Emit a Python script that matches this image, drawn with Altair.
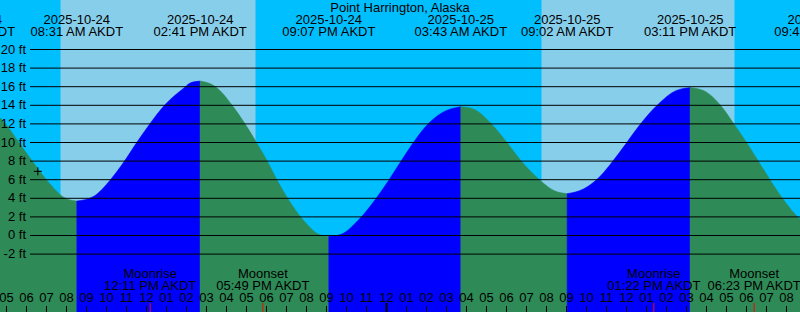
import altair as alt
import pandas as pd

TITLE = "Point Harrington, Alaska"
ZONE = "AKDT"
FONT = "Liberation Sans"

# High / low tides (first and last lie just outside the visible window)
extreme_stamps = ["2025-10-24 03:07", "2025-10-24 08:31", "2025-10-24 14:41", "2025-10-24 21:07",
                  "2025-10-25 03:43", "2025-10-25 09:02", "2025-10-25 15:11", "2025-10-25 21:43"]
extreme_heights = [14.9, 3.7, 16.6, -0.1, 13.85, 4.5, 15.9, 0.6]

# Water level (ft)
reading_stamps = [
    "2025-10-24 04:42", "2025-10-24 04:57", "2025-10-24 05:37", "2025-10-24 06:17", "2025-10-24 07:02", "2025-10-24 07:57",
    "2025-10-24 09:21", "2025-10-24 10:12", "2025-10-24 10:54", "2025-10-24 11:27", "2025-10-24 12:10", "2025-10-24 12:54",
    "2025-10-24 13:57", "2025-10-24 14:11",
    "2025-10-24 15:27", "2025-10-24 16:17", "2025-10-24 16:52", "2025-10-24 17:30", "2025-10-24 18:02", "2025-10-24 18:34",
    "2025-10-24 19:07", "2025-10-24 19:47", "2025-10-24 20:42",
    "2025-10-24 21:42", "2025-10-24 22:42", "2025-10-24 23:27", "2025-10-25 00:06", "2025-10-25 00:42", "2025-10-25 01:17",
    "2025-10-25 01:57", "2025-10-25 02:42",
    "2025-10-25 04:20", "2025-10-25 05:12", "2025-10-25 05:57", "2025-10-25 06:42", "2025-10-25 07:42", "2025-10-25 08:24",
    "2025-10-25 09:51", "2025-10-25 10:42", "2025-10-25 11:17", "2025-10-25 11:57", "2025-10-25 12:40", "2025-10-25 13:32",
    "2025-10-25 14:30",
    "2025-10-25 15:50", "2025-10-25 16:42", "2025-10-25 17:22", "2025-10-25 18:02", "2025-10-25 18:37", "2025-10-25 19:12",
    "2025-10-25 19:52", "2025-10-25 20:42",
]
reading_heights = [
    12.6, 12.0, 10.0, 8.0, 5.9, 4.0,
    4.2, 6.0, 8.0, 9.8, 12.0, 14.0,
    16.0, 16.4,
    16.0, 14.0, 12.2, 10.0, 8.0, 5.8,
    3.8, 1.8, 0.05,
    0.1, 1.9, 3.9, 5.9, 7.9, 9.8,
    11.7, 13.1,
    13.6, 12.1, 10.2, 8.1, 5.9, 4.8,
    5.0, 6.4, 7.9, 9.8, 11.9, 14.0,
    15.6,
    15.6, 14.0, 12.0, 9.9, 7.9, 5.9,
    3.8, 1.7,
]

sunrise_stamps = ["2025-10-24 07:42", "2025-10-25 07:45"]
sunset_stamps = ["2025-10-24 17:27", "2025-10-25 17:24"]

moon_names = ["Moonrise", "Moonset", "Moonrise", "Moonset"]
moon_stamps = ["2025-10-24 12:11", "2025-10-24 17:49", "2025-10-25 13:22", "2025-10-25 18:23"]

level_marks = [-2, 0, 2, 4, 6, 8, 10, 12, 14, 16, 18, 20]
hour_marks = list(range(5, 45))          # whole hours since 2025-10-24 00:00
midnight_marks = [24]

now_stamp = "2025-10-24 06:34"
now_height = 6.9

X_DOMAIN = [4.675, 44.675]
Y_DOMAIN = [-8.226, 25.323]


def hours(stamp):
    d, t = stamp.split(" ")
    day = int(d.split("-")[2]) - 24
    hh, mm = t.split(":")
    return day * 24 + int(hh) + int(mm) / 60.0


def clock(stamp):
    hh, mm = stamp.split(" ")[1].split(":")
    hh = int(hh)
    ampm = "AM" if hh < 12 else "PM"
    h12 = hh % 12 or 12
    return f"{h12:02d}:{mm} {ampm} {ZONE}"


# tide area rows, split into rising / falling stretches
ext = [(hours(s), v) for s, v in zip(extreme_stamps, extreme_heights)]
rd = sorted((hours(s), v) for s, v in zip(reading_stamps, reading_heights))
rows = []
for i in range(len(ext) - 1):
    t0, v0 = ext[i]
    t1, v1 = ext[i + 1]
    kind = "rise" if v1 > v0 else "fall"
    pts = [(t0, v0)] + [(t, v) for t, v in rd if t0 < t < t1] + [(t1, v1)]
    for t, v in pts:
        rows.append({"h": t, "ft": v, "seg": i, "kind": kind})
tide_df = pd.DataFrame(rows)

day_df = pd.DataFrame({"h": [hours(s) for s in sunrise_stamps], "h2": [hours(s) for s in sunset_stamps]})
lev_df = pd.DataFrame({"ft": level_marks, "label": [f"{v} ft" for v in level_marks]})
ev_df = pd.DataFrame({"h": [hours(s) for s in extreme_stamps],
                      "date": [s.split(" ")[0] for s in extreme_stamps],
                      "time": [clock(s) for s in extreme_stamps]})
moon_df = pd.DataFrame({"h": [hours(s) for s in moon_stamps], "name": moon_names,
                        "time": [clock(s) for s in moon_stamps]})
hour_df = pd.DataFrame({"h": hour_marks, "label": [f"{(h % 12) or 12:02d}" for h in hour_marks]})
mid_df = pd.DataFrame({"h": midnight_marks})
now_df = pd.DataFrame({"h": [hours(now_stamp)], "ft": [now_height]})

xs = alt.Scale(domain=X_DOMAIN, nice=False, zero=False)
ys = alt.Scale(domain=Y_DOMAIN, nice=False, zero=False)
X = alt.X("h:Q", scale=xs, axis=None)
Y = alt.Y("ft:Q", scale=ys, axis=None, stack=None)

days = alt.Chart(day_df).mark_rect(color="#87CEEB").encode(
    x=X, x2="h2:Q", y=alt.value(0), y2=alt.value(312))

tide = alt.Chart(tide_df).mark_area(interpolate="monotone", clip=True, strokeWidth=0.6).encode(
    x=X, y=Y, y2=alt.value(312),
    color=alt.Color("kind:N", scale=alt.Scale(domain=["rise", "fall"], range=["#0000FF", "#2E8B57"]), legend=None),
    stroke=alt.Stroke("kind:N", scale=alt.Scale(domain=["rise", "fall"], range=["#0000FF", "#2E8B57"]), legend=None),
    detail="seg:N")

levels = alt.Chart(lev_df).mark_rule(color="black", strokeWidth=1).encode(
    y=Y, x=alt.value(30), x2=alt.value(800))
lev_text = alt.Chart(lev_df).mark_text(align="right", baseline="middle", font=FONT, fontSize=13, color="black").encode(
    y=Y, x=alt.value(26), text="label:N")

title = alt.Chart(pd.DataFrame({"t": [TITLE]})).mark_text(
    align="center", baseline="middle", font=FONT, fontSize=13, color="black").encode(
    x=alt.value(400), y=alt.value(7.5), text="t:N")
ev_date = alt.Chart(ev_df).mark_text(align="center", baseline="middle", font=FONT, fontSize=13, color="black").encode(
    x=X, y=alt.value(19.5), text="date:N")
ev_time = alt.Chart(ev_df).mark_text(align="center", baseline="middle", font=FONT, fontSize=13, color="black").encode(
    x=X, y=alt.value(31.5), text="time:N")

moon_name = alt.Chart(moon_df).mark_text(align="center", baseline="middle", font=FONT, fontSize=13, color="black").encode(
    x=X, y=alt.value(273.5), text="name:N")
moon_time = alt.Chart(moon_df).mark_text(align="center", baseline="middle", font=FONT, fontSize=13, color="black").encode(
    x=X, y=alt.value(285.5), text="time:N")

hour_text = alt.Chart(hour_df).mark_text(align="center", baseline="middle", font=FONT, fontSize=13, color="black").encode(
    x=X, y=alt.value(297.5), text="label:N")
hour_ticks = alt.Chart(hour_df).mark_rule(color="black", strokeWidth=1).encode(
    x=X, y=alt.value(306), y2=alt.value(312))
mid_ticks = alt.Chart(mid_df).mark_rule(color="black", strokeWidth=2).encode(
    x=X, y=alt.value(303), y2=alt.value(312))
moon_ticks = alt.Chart(moon_df).mark_rule(color="#FF0000", strokeWidth=1).encode(
    x=X, y=alt.value(303), y2=alt.value(312))

now_mark = alt.Chart(now_df).mark_point(
    shape="M-1,0L1,0M0,-1L0,1", filled=False, stroke="black", strokeWidth=1, size=64, opacity=1).encode(
    x=X, y=Y)

chart = alt.layer(
    days, tide, levels, lev_text, title, ev_date, ev_time,
    moon_name, moon_time, hour_text, hour_ticks, mid_ticks, moon_ticks, now_mark
).properties(
    width=800, height=312, background="#00BFFF", padding=0, autosize="none"
).configure_view(strokeWidth=0)

chart.save("out.html", embed_options={"renderer": "svg", "actions": False})
